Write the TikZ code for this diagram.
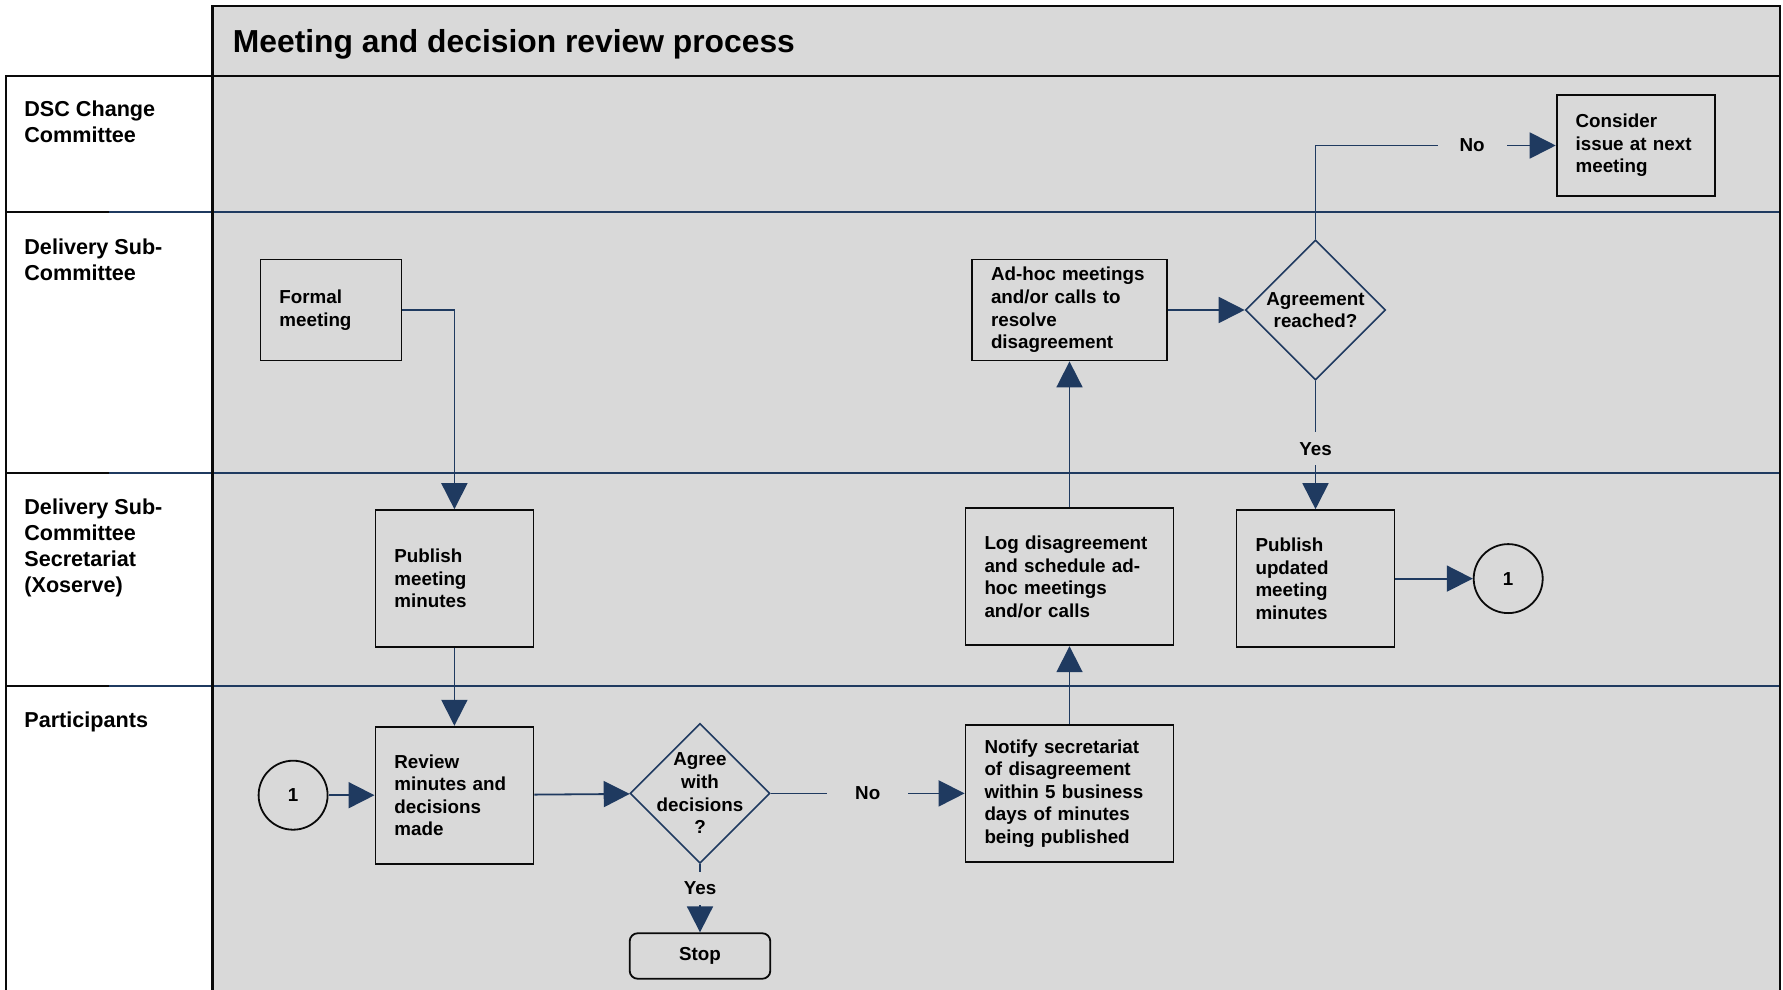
\documentclass[tikz,border=0pt]{standalone}
\usepackage{fontspec}
\setmainfont{Liberation Sans}
\usetikzlibrary{arrows.meta,positioning,shapes.geometric}
\usepackage{xcolor}
\definecolor{lanegrey}{RGB}{217,217,217}
\definecolor{linenavy}{RGB}{31,58,96}
\definecolor{lineblack}{RGB}{10,10,10}
\newcommand{\boxfont}{\fontsize{9.4}{11.3}\selectfont\bfseries}
\newcommand{\lanefont}{\fontsize{10.8}{13}\selectfont\bfseries}
\newcommand{\titlefont}{\fontsize{15.9}{18}\selectfont\bfseries}

\begin{document}
\begin{tikzpicture}[
  x=0.5pt, y=-0.5pt,
  box/.style={rectangle, draw=lineblack, fill=lanegrey, line width=0.9pt, align=left, font=\boxfont, inner xsep=9.5pt, inner ysep=0pt, text width=#1, minimum height=68.5pt},
  box/.default=60pt,
  decision/.style={diamond, draw=linenavy, fill=lanegrey, line width=0.8pt, minimum width=70pt, minimum height=70pt, inner sep=0pt},
  dtxt/.style={font=\boxfont, align=center, inner sep=0pt},
  conn/.style={circle, draw=lineblack, line width=0.9pt, minimum size=34.5pt, inner sep=0pt, font=\boxfont},
  stopbox/.style={rectangle, rounded corners=4pt, draw=lineblack, line width=0.9pt, minimum width=70.3pt, minimum height=22.75pt, font=\boxfont},
  arr/.style={-{Triangle[length=13pt, width=13pt]}, draw=linenavy, line width=0.9pt},
  lbl/.style={font=\boxfont, fill=lanegrey, inner xsep=14pt, inner ysep=5pt},
  lane/.style={font=\lanefont, align=left, anchor=north west, inner sep=0pt}
]
\useasboundingbox (0,0) rectangle (1783,990);
\fill[white] (0,0) rectangle (1783,990);
\fill[lanegrey] (212.6,6) rectangle (1780,990);

% lanes
\foreach \ly in {211.6,472.8,686.4} {
  \draw[lineblack, line width=1pt] (5.7,\ly) -- (109,\ly);
  \draw[linenavy, line width=1pt] (109,\ly) -- (1780,\ly);
}
\draw[lineblack, line width=1.2pt] (212.6,990) -- (212.6,6) -- (1780,6) -- (1780,990);
\draw[lineblack, line width=1.2pt] (5.7,990) -- (5.7,76) -- (1780,76);

\node[font=\titlefont, anchor=base west, inner sep=0pt] (title) at (232.5,53) {Meeting and decision review process};
\node[lane] (lDSC) at (24,100.5) {DSC Change\\Committee};
\node[lane] (lDSub) at (24,238) {Delivery Sub-\\Committee};
\node[lane] (lSec) at (24,498.5) {Delivery Sub-\\Committee\\Secretariat\\(Xoserve)};
\node[lane] (lPart) at (24,711.5) {Participants};

% process
\node[box=51.5pt, minimum height=50.5pt] (formal) at (330.9,310) {Formal\\meeting};
\node[box] (pub) at (454.4,578.6) {Publish\\meeting\\minutes};
\node[box, below=38.9pt of pub] (review) {Review\\minutes and\\decisions\\made};
\node[conn, left=23pt of review] (c1) {1};
\node[decision, label={[dtxt, name=agreetxt]center:Agree\\with\\decisions\\?}] (agree) at (700,793.4) {};
\node[stopbox] (stop) at (700,956) {Stop};
\node[box=85pt] (notify) at (1069.5,793.4) {Notify secretariat\\of disagreement\\within 5 business\\days of minutes\\being published};
\node[box=85pt, above=38.9pt of notify] (log) {Log disagreement\\and schedule ad-\\hoc meetings\\and/or calls};
\node[box=78.5pt, minimum height=50.5pt] (adhoc) at (1069.5,310) {Ad-hoc meetings\\and/or calls to\\resolve\\disagreement};
\node[decision, label={[dtxt, name=reachedtxt]center:Agreement\\reached?}] (reached) at (1315.5,310) {};
\node[box] (pubup) at (1315.5,578.6) {Publish\\updated\\meeting\\minutes};
\node[conn, right=38.7pt of pubup] (c2) {1};
\node[box, minimum height=50.5pt] (consider) at (1635.6,145.5) {Consider\\issue at next\\meeting};

\draw[arr] (formal) -| (pub);
\draw[arr] (pub) -- (review);
\draw[arr] (c1) -- (review);
\draw[arr] (review) -- (agree);
\draw[arr] (agree) -- node[lbl, pos=0.35] (yes1) {Yes} (stop);
\draw[arr] (agree) -- node[lbl] (no1) {No} (notify);
\draw[arr] (notify) -- (log);
\draw[arr] (log) -- (adhoc);
\draw[arr] (adhoc) -- (reached);
\draw[arr] (reached) -- node[lbl, pos=0.53] (yes2) {Yes} (pubup);
\draw[arr] (reached) |- node[lbl, pos=0.826, inner xsep=11pt] (no2) {No} (consider);
\draw[arr] (pubup) -- (c2);
\end{tikzpicture}
\end{document}
